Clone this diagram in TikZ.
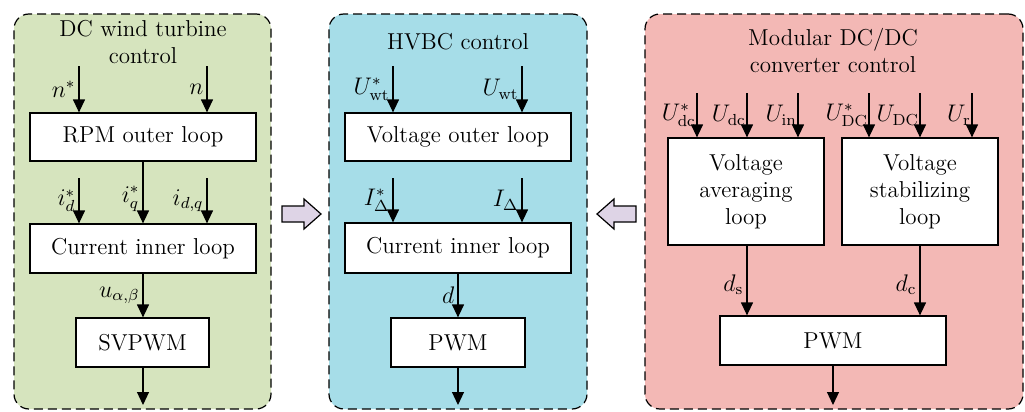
\documentclass[tikz,border=0pt]{standalone}
\usetikzlibrary{arrows.meta}
\definecolor{pgreen}{RGB}{214,228,190}
\definecolor{pblue}{RGB}{166,221,232}
\definecolor{ppink}{RGB}{243,184,181}
\definecolor{plav}{RGB}{222,212,230}
\begin{document}
\begin{tikzpicture}[x=0.5pt,y=-0.5pt,
  font=\fontsize{11.5}{13.5}\selectfont,
  panel/.style={draw, dash pattern=on 4.5pt off 2.5pt, rounded corners=7.5pt, line width=0.6pt, inner sep=0pt},
  blk/.style={draw, fill=white, line width=0.6pt, inner sep=0pt, align=center},
  arr/.style={-{Triangle[width=6pt,length=6.5pt]}, line width=0.6pt},
  lab/.style={anchor=east, inner sep=1.5pt},
  labr/.style={anchor=east, inner sep=0.3pt},
  hollow/.style={draw, fill=plav, line width=0.6pt},
  ttl/.style={align=center, inner sep=0pt}]
\useasboundingbox (0,0) rectangle (1025,412);

% panels
\node[panel, fill=pgreen, minimum width=128.5pt, minimum height=197.5pt] (p1) at (142.5,211.5) {};
\node[panel, fill=pblue, minimum width=129pt, minimum height=197.5pt] (p2) at (458,211.5) {};
\node[panel, fill=ppink, minimum width=189pt, minimum height=197.5pt] (p3) at (834,211.5) {};

% ---------- left panel ----------
\node[ttl] (t1) at (143,42) {DC wind turbine\\control};
\node[blk, minimum width=113pt, minimum height=24pt] (rpm) at (143,137) {RPM outer loop};
\node[blk, minimum width=113pt, minimum height=24.5pt] (cur1) at (143,248.5) {Current inner loop};
\node[blk, minimum width=66.5pt, minimum height=24.5pt] (svp) at (142.5,342.5) {SVPWM};
\coordinate (a1) at (79,66);
\coordinate (a2) at (207,66);
\coordinate (b1) at (79,178);
\coordinate (b3) at (207,178);
\coordinate (o1) at (143,405);
\draw[arr] (a1) -- (a1 |- rpm.north) node[lab, midway] {$n^*$};
\draw[arr] (a2) -- (a2 |- rpm.north) node[lab, midway] {$n$};
\draw[arr] (b1) -- (b1 |- cur1.north) node[lab, midway] {$i_d^*$};
\draw[arr] (rpm.south) -- (cur1.north) node[lab, pos=0.6] {$i_q^*$};
\draw[arr] (b3) -- (b3 |- cur1.north) node[lab, midway] {$i_{d,q}$};
\draw[arr] (cur1.south) -- (cur1.south |- svp.north) node[lab, midway] {$u_{\alpha,\beta}$};
\draw[arr] (svp.south -| o1) -- (o1);

% ---------- middle panel ----------
\node[ttl] (t2) at (458,42) {HVBC control};
\node[blk, minimum width=113pt, minimum height=24pt] (vol) at (458,137) {Voltage outer loop};
\node[blk, minimum width=113pt, minimum height=25pt] (cur2) at (458,248) {Current inner loop};
\node[blk, minimum width=67pt, minimum height=24.5pt] (pwm2) at (458,342.5) {PWM};
\coordinate (c1) at (393,66);
\coordinate (c2) at (522,66);
\coordinate (e1) at (393,178);
\coordinate (e2) at (522,178);
\coordinate (o2) at (458,405);
\draw[arr] (c1) -- (c1 |- vol.north) node[lab, midway] {$U_{\mathrm{wt}}^*$};
\draw[arr] (c2) -- (c2 |- vol.north) node[lab, midway] {$U_{\mathrm{wt}}$};
\draw[arr] (e1) -- (e1 |- cur2.north) node[lab, midway] {$I_\Delta^*$};
\draw[arr] (e2) -- (e2 |- cur2.north) node[lab, midway] {$I_\Delta$};
\draw[arr] (cur2.south) -- (pwm2.north) node[lab, midway] {$d$};
\draw[arr] (pwm2.south) -- (o2);

% ---------- right panel ----------
\node[ttl] (t3) at (833,50) {Modular DC/DC\\converter control};
\node[blk, minimum width=78pt, minimum height=53.5pt] (avg) at (746,191.5) {Voltage\\averaging\\loop};
\node[blk, minimum width=78pt, minimum height=53.5pt] (stb) at (920,191.5) {Voltage\\stabilizing\\loop};
\node[blk, minimum width=113pt, minimum height=24.5pt] (pwm3) at (833,340.5) {PWM};
\coordinate (f1) at (697,93);
\coordinate (f2) at (747,93);
\coordinate (f3) at (798,93);
\coordinate (g1) at (869,93);
\coordinate (g2) at (920,93);
\coordinate (g3) at (972,93);
\coordinate (o3) at (833,405);
\draw[arr] (f1) -- (f1 |- avg.north) node[labr, midway] {$U_{\mathrm{dc}}^*$};
\draw[arr] (f2) -- (f2 |- avg.north) node[labr, midway] {$U_{\mathrm{dc}}$};
\draw[arr] (f3) -- (f3 |- avg.north) node[labr, midway] {$U_{\mathrm{in}}$};
\draw[arr] (g1) -- (g1 |- stb.north) node[labr, midway] {$U_{\mathrm{DC}}^*$};
\draw[arr] (g2) -- (g2 |- stb.north) node[labr, midway] {$U_{\mathrm{DC}}$};
\draw[arr] (g3) -- (g3 |- stb.north) node[labr, midway] {$U_{\mathrm{r}}$};
\draw[arr] (f2 |- avg.south) -- (f2 |- pwm3.north) node[lab, pos=0.56] {$d_{\mathrm{s}}$};
\draw[arr] (g2 |- stb.south) -- (g2 |- pwm3.north) node[lab, pos=0.56] {$d_{\mathrm{c}}$};
\draw[arr] (pwm3.south) -- (o3);

% hollow arrows between panels
\draw[hollow] (282,206) -- (304,206) -- (304,199) -- (321,214) -- (304,229) -- (304,222) -- (282,222) -- cycle;
\draw[hollow] (636,206) -- (614,206) -- (614,199) -- (597,214) -- (614,229) -- (614,222) -- (636,222) -- cycle;
\end{tikzpicture}
\end{document}
